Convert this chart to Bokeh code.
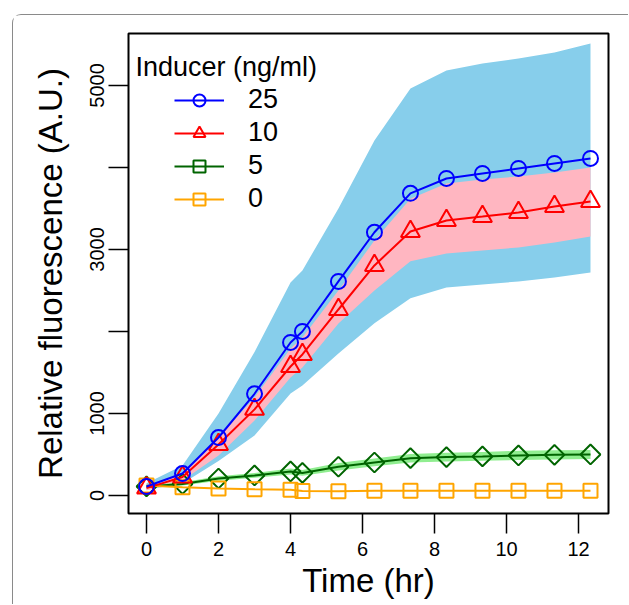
import numpy as np
from bokeh.plotting import figure
from bokeh.models import Legend, LegendItem, Label, FixedTicker, Range1d
from bokeh.embed import file_html
from bokeh.resources import INLINE

# ---- data ----
time_hr = [0, 1, 2, 3, 4, 4.33, 5.33, 6.33, 7.33, 8.33, 9.33, 10.33, 11.33, 12.33]
doses = ["25", "10", "5", "0"]

mean_25 = [110, 268, 707, 1240, 1866, 2000, 2610, 3210, 3685, 3866, 3927, 3988, 4049, 4110]
lo_25 = [70, 146, 420, 732, 1244, 1341, 1730, 2100, 2405, 2537, 2573, 2610, 2659, 2720]
hi_25 = [150, 366, 1000, 1750, 2598, 2744, 3500, 4329, 4963, 5183, 5268, 5329, 5402, 5512]

mean_10 = [90, 225, 622, 1050, 1573, 1720, 2268, 2805, 3220, 3354, 3402, 3451, 3524, 3585]
lo_10 = [60, 183, 488, 915, 1439, 1561, 2098, 2500, 2855, 2951, 2988, 3024, 3085, 3159]
hi_10 = [120, 268, 707, 1195, 1793, 1927, 2500, 3110, 3620, 3805, 3854, 3890, 3939, 4000]

mean_5 = [110, 140, 207, 244, 293, 275, 350, 402, 455, 468, 476, 488, 495, 500]
lo_5 = [95, 120, 180, 215, 255, 240, 305, 355, 403, 415, 422, 432, 440, 445]
hi_5 = [125, 160, 235, 275, 330, 312, 395, 450, 507, 520, 530, 545, 550, 555]

mean_0 = [120, 100, 85, 75, 70, 55, 52, 58, 58, 58, 58, 58, 58, 58]

x_ticks = [0, 2, 4, 6, 8, 10, 12]
y_ticks = [0, 1000, 2000, 3000, 4000, 5000]
y_hidden_labels = [2000, 4000]

FONT = "Liberation Sans"

p = figure(width=616, height=590,
           x_range=Range1d(-0.5, 12.83), y_range=Range1d(-220, 5634),
           output_backend="svg", toolbar_location=None,
           min_border_left=115, min_border_right=21,
           min_border_top=18, min_border_bottom=92)
p.margin = (14, 0, 0, 12)
p.styles = {"border-top": "1px solid #8a8a8a", "border-left": "1px solid #8a8a8a",
            "border-top-left-radius": "9px"}

p.grid.visible = False
p.outline_line_color = "black"
p.outline_line_width = 2
p.background_fill_color = "white"
p.border_fill_color = "white"

# bands
p.varea(x=time_hr, y1=lo_25, y2=hi_25, fill_color="#87CEEB")
p.varea(x=time_hr, y1=lo_10, y2=hi_10, fill_color="#FFB6C1")
p.varea(x=time_hr, y1=lo_5, y2=hi_5, fill_color="#90EE90")

# series
l5 = p.line(time_hr, mean_5, line_color="#006400", line_width=2)
s5 = p.scatter(time_hr, mean_5, marker="square", angle=np.pi / 4, size=14,
               fill_color=None, line_color="#006400", line_width=2)
l0 = p.line(time_hr, mean_0, line_color="#FFA500", line_width=2)
s0 = p.scatter(time_hr, mean_0, marker="square", size=14,
               fill_color=None, line_color="#FFA500", line_width=2)
l10 = p.line(time_hr, mean_10, line_color="#FF0000", line_width=2)
s10 = p.scatter(time_hr, mean_10, marker="triangle", size=19,
                fill_color=None, line_color="#FF0000", line_width=2)
l25 = p.line(time_hr, mean_25, line_color="#0000FF", line_width=2)
s25 = p.scatter(time_hr, mean_25, marker="circle", size=15,
                fill_color=None, line_color="#0000FF", line_width=2)

# axes
for ax in (p.xaxis[0], p.yaxis[0]):
    ax.axis_line_color = None
    ax.major_tick_out = 20
    ax.major_tick_in = 0
    ax.major_tick_line_width = 1.5
    ax.major_tick_line_color = "black"
    ax.minor_tick_line_color = None
    ax.major_label_text_font = FONT
    ax.major_label_text_font_size = "20px"
    ax.major_label_text_color = "black"
    ax.axis_label_text_font = FONT
    ax.axis_label_text_font_size = "33px"
    ax.axis_label_text_font_style = "normal"
    ax.axis_label_text_color = "black"

p.xaxis.ticker = FixedTicker(ticks=x_ticks)
p.xaxis.major_label_standoff = 8
p.xaxis.axis_label = "Time (hr)"
p.xaxis.axis_label_standoff = 3

p.yaxis.ticker = FixedTicker(ticks=y_ticks)
p.yaxis.major_label_overrides = {t: "" for t in y_hidden_labels}
p.yaxis.major_label_orientation = "vertical"
p.yaxis.major_label_standoff = 4
p.yaxis.axis_label = "Relative fluorescence (A.U.)"
p.yaxis.axis_label_standoff = 19

# legend title
p.add_layout(Label(x=7, y=447, x_units="screen", y_units="screen",
                   text="Inducer (ng/ml)", text_align="left", text_baseline="alphabetic",
                   text_font=FONT, text_font_size="27px", text_color="black"))

legend = Legend(items=[LegendItem(label=doses[0], renderers=[l25, s25]),
                       LegendItem(label=doses[1], renderers=[l10, s10]),
                       LegendItem(label=doses[2], renderers=[l5, s5]),
                       LegendItem(label=doses[3], renderers=[l0, s0])],
                location=(46, 299), padding=0, spacing=2, margin=0,
                glyph_width=50, glyph_height=30, label_height=30,
                label_standoff=24, label_text_font=FONT, label_text_font_size="27px",
                label_text_color="black",
                border_line_color=None, background_fill_alpha=0)
p.add_layout(legend)

open("out.html", "w").write(file_html(p, INLINE))
